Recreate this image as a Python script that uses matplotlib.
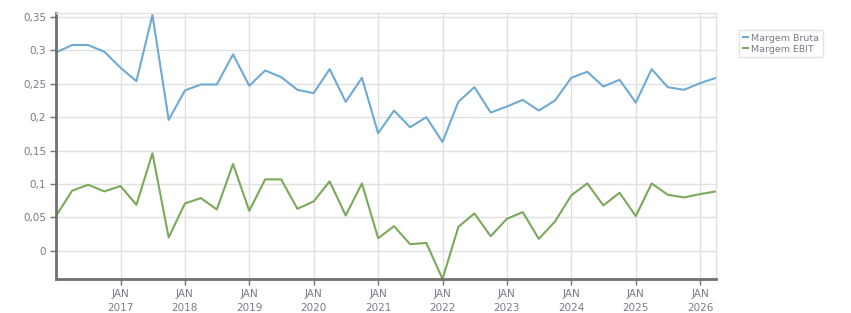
import pandas as pd
import matplotlib.pyplot as plt
from matplotlib.ticker import FuncFormatter

# quarterly values, Jan 2016 .. Apr 2026
start = "2016-01-01"
n_quarters = 42

margem_bruta = [
    0.297, 0.308, 0.308, 0.298, 0.274, 0.254, 0.353, 0.196, 0.240, 0.249,
    0.249, 0.294, 0.247, 0.270, 0.260, 0.241, 0.236, 0.272, 0.223, 0.259,
    0.176, 0.210, 0.185, 0.200, 0.163, 0.223, 0.245, 0.207, 0.216, 0.226,
    0.210, 0.225, 0.259, 0.268, 0.246, 0.256, 0.222, 0.272, 0.245, 0.241,
    0.251, 0.259,
]
margem_ebit = [
    0.052, 0.090, 0.099, 0.089, 0.097, 0.069, 0.146, 0.020, 0.071, 0.079,
    0.062, 0.130, 0.060, 0.107, 0.107, 0.063, 0.074, 0.104, 0.053, 0.101,
    0.019, 0.037, 0.010, 0.012, -0.042, 0.036, 0.056, 0.022, 0.048, 0.058,
    0.018, 0.044, 0.083, 0.101, 0.068, 0.087, 0.052, 0.101, 0.084, 0.080,
    0.085, 0.089,
]
series_names = ["Margem Bruta", "Margem EBIT"]
y_ticks = [0, 0.05, 0.1, 0.15, 0.2, 0.25, 0.3, 0.35]

dates = pd.date_range(start, periods=n_quarters, freq="QS")

fig = plt.figure(figsize=(8.51, 3.13), dpi=100)
ax = fig.add_axes([56 / 851, 1 - 279.3 / 313, 660 / 851, 266 / 313])

blue = "#6eaad3"
green = "#7aa95b"
l1, = ax.plot(dates, margem_bruta, color=blue, linewidth=1.5)
l2, = ax.plot(dates, margem_ebit, color=green, linewidth=1.5)

ax.set_xlim(dates[0], dates[-1])
ax.set_ylim(-0.0425, 0.3555)

txt = "#7b7b88"
ax.set_yticks(y_ticks)
ax.yaxis.set_major_formatter(FuncFormatter(lambda v, p: ("%g" % round(v, 2)).replace(".", ",")))
years = pd.date_range("2017-01-01", "2026-01-01", freq="YS")
ax.set_xticks(years)
ax.set_xticklabels(["JAN\n%d" % d.year for d in years])

ax.grid(True, color="#e0e0e0", linewidth=1)
ax.set_axisbelow(True)
for s in ["top", "right"]:
    ax.spines[s].set_color("#e0e0e0")
    ax.spines[s].set_linewidth(1)
for s in ["left", "bottom"]:
    ax.spines[s].set_color("#707070")
    ax.spines[s].set_linewidth(2)
ax.tick_params(axis="both", colors="#707070", labelcolor=txt, labelsize=7.5, length=4, width=1)
ax.tick_params(axis="y", pad=3)
ax.tick_params(axis="x", pad=3)
for lab in ax.get_xticklabels():
    lab.set_linespacing(1.5)

leg = fig.legend([l1, l2], series_names, loc="upper left",
                 bbox_to_anchor=(739 / 851, 1 - 30 / 313), fontsize=6.8,
                 handlelength=0.6, handletextpad=0.3, borderpad=0.4,
                 labelspacing=0.2, frameon=True, fancybox=False,
                 borderaxespad=0)
leg.get_frame().set_edgecolor("#dcdcdc")
leg.get_frame().set_linewidth(1)
for t in leg.get_texts():
    t.set_color(txt)

fig.savefig("out.png", dpi=100)
